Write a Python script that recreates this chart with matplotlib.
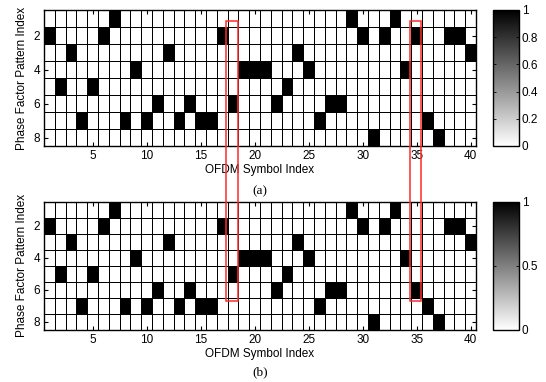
import numpy as np
import matplotlib
matplotlib.use('Agg')
import matplotlib.pyplot as plt
from matplotlib.patches import Rectangle

plt.rcParams['font.family'] = ['Liberation Sans', 'DejaVu Sans']
plt.rcParams['font.size'] = 8.5

n_symbols = 40
n_patterns = 8

# chosen phase factor pattern per row (1-based OFDM symbol indices)
pattern_a = [
    [7, 29, 33],
    [1, 6, 17, 30, 32, 35, 38, 39],
    [3, 12, 24, 40],
    [9, 19, 20, 21, 25, 34],
    [2, 5, 23],
    [11, 14, 18, 22, 27, 28],
    [4, 8, 10, 13, 15, 16, 26, 36],
    [31, 37],
]
pattern_b = [
    [7, 29, 33],
    [1, 6, 17, 30, 32, 38, 39],
    [3, 12, 24, 40],
    [9, 19, 20, 21, 25, 34],
    [2, 5, 18, 23],
    [11, 14, 22, 27, 28, 35],
    [4, 8, 10, 13, 15, 16, 26, 36],
    [31, 37],
]

x_ticks = [5, 10, 15, 20, 25, 30, 35, 40]
y_ticks = [2, 4, 6, 8]
cbar_ticks_a = [0, 0.2, 0.4, 0.6, 0.8, 1]
cbar_ticks_b = [0, 0.5, 1]
highlight_cols = [18, 35]


def to_matrix(rows):
    m = np.zeros((n_patterns, n_symbols))
    for r, cols in enumerate(rows):
        for c in cols:
            m[r, c - 1] = 1
    return m


def draw_panel(ax, cax, rows, cticks, tag):
    m = to_matrix(rows)
    xe = np.arange(n_symbols + 1) + 0.5
    ye = np.arange(n_patterns + 1) + 0.5
    mesh = ax.pcolormesh(xe, ye, m, cmap='gray_r', vmin=0, vmax=1,
                         edgecolors='k', linewidth=0.55)
    ax.set_xlim(0.5, n_symbols + 0.5)
    ax.set_ylim(n_patterns + 0.5, 0.5)
    ax.set_xticks(x_ticks)
    ax.set_yticks(y_ticks)
    ax.tick_params(direction='in', top=True, right=True, length=3, width=0.8, pad=3)
    for s in ax.spines.values():
        s.set_linewidth(1.0)
    ax.set_xlabel('OFDM Symbol Index', labelpad=1)
    ax.set_ylabel('Phase Factor Pattern Index', labelpad=4)
    ax.text(0.5, -0.33, tag, transform=ax.transAxes, ha='center', va='center',
            family=['Liberation Serif'], fontsize=9.5)

    cb = plt.colorbar(mesh, cax=cax, ticks=cticks)
    cb.ax.set_yticklabels(['%g' % t for t in cticks])
    cb.outline.set_linewidth(1.0)
    cax.yaxis.set_ticks_position('both')
    cax.tick_params(direction='in', length=2, width=0.6, pad=2)
    return mesh


fig = plt.figure(figsize=(5.46, 3.82), dpi=100)
W, H = 546, 382

def px_axes(x0, y0, x1, y1):
    return fig.add_axes([x0 / W, 1 - y1 / H, (x1 - x0) / W, (y1 - y0) / H])

ax_a = px_axes(44, 10, 476, 146)
cax_a = px_axes(493, 10, 519, 146)
ax_b = px_axes(44, 201.5, 476, 330)
cax_b = px_axes(493, 201.5, 519, 330)

draw_panel(ax_a, cax_a, pattern_a, cbar_ticks_a, '(a)')
draw_panel(ax_b, cax_b, pattern_b, cbar_ticks_b, '(b)')

# red boxes linking the changed columns across both panels
inv = fig.transFigure.inverted()
for col in highlight_cols:
    x_left = col - 0.65
    x_right = col + 0.45
    top = inv.transform(ax_a.transData.transform((x_left, 1.13)))
    bottom = inv.transform(ax_b.transData.transform((x_right, 6.72)))
    rect = Rectangle((top[0], bottom[1]), bottom[0] - top[0], top[1] - bottom[1],
                     transform=fig.transFigure, fill=False, edgecolor='#ff2a2a',
                     linewidth=1.1, zorder=10)
    fig.patches.append(rect)

fig.savefig('out.png', dpi=100)
